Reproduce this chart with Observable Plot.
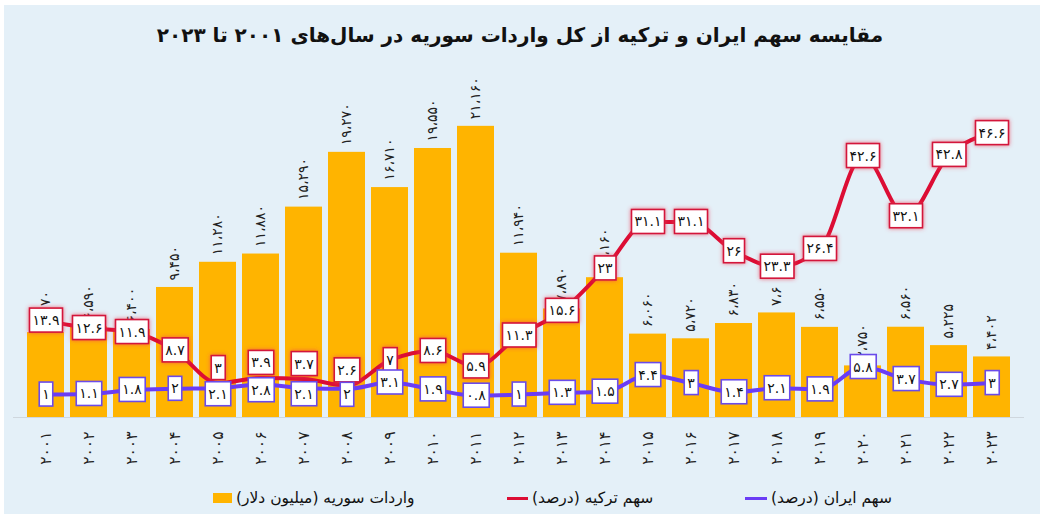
<!DOCTYPE html>
<html><head><meta charset="utf-8">
<script src="https://cdn.jsdelivr.net/npm/d3@7"></script>
<script src="https://cdn.jsdelivr.net/npm/@observablehq/plot@0.6"></script>
<style>
body{margin:0;background:#fff;}
#wrap{position:relative;width:1040px;height:514px;overflow:hidden;background:#fff;font-family:"DejaVu Sans",sans-serif;}
#panel{position:absolute;left:4px;top:5px;right:0;bottom:0;background:#E4F0F8;}
#title{position:absolute;left:0;top:23px;width:1040px;text-align:center;font-weight:bold;font-size:20px;direction:rtl;color:#111;}
.layer{position:absolute;left:0;top:0;}
.leg{position:absolute;top:488px;height:20px;display:flex;align-items:center;font-size:15.5px;color:#111;white-space:nowrap;}
.leg .txt{direction:rtl;margin-left:4px;}
</style></head><body>
<div id="wrap">
  <div id="panel"></div>
  <div id="title">مقایسه سهم ایران و ترکیه از کل واردات سوریه در سال‌های ۲۰۰۱ تا ۲۰۲۳</div>
  <div id="chart"></div>
  <div class="leg" style="left:213px"><span style="display:inline-block;width:19px;height:10px;background:#FFB400"></span><span class="txt">واردات سوریه (میلیون دلار)</span></div>
  <div class="leg" style="left:507px"><span style="display:inline-block;width:21px;height:3px;background:#DC0D34"></span><span class="txt">سهم ترکیه (درصد)</span></div>
  <div class="leg" style="left:745px"><span style="display:inline-block;width:22px;height:3px;background:#6A3CF5"></span><span class="txt">سهم ایران (درصد)</span></div>
</div>
<script>
const years = [2001,2002,2003,2004,2005,2006,2007,2008,2009,2010,2011,2012,2013,2014,2015,2016,2017,2018,2019,2020,2021,2022,2023];
const imports = [6170,6590,6400,9450,11280,11880,15290,19270,16710,19550,21160,11940,7890,10160,6060,5720,6830,7600,6550,3750,6560,5225,4402];
const importLabels = ["۶،۱۷۰","۶،۵۹۰","۶،۴۰۰","۹،۴۵۰","۱۱،۲۸۰","۱۱،۸۸۰","۱۵،۲۹۰","۱۹،۲۷۰","۱۶،۷۱۰","۱۹،۵۵۰","۲۱،۱۶۰","۱۱،۹۴۰","۷،۸۹۰","۱۰،۱۶۰","۶،۰۶۰","۵،۷۲۰","۶،۸۳۰","۷،۶","۶،۵۵۰","۳،۷۵۰","۶،۵۶۰","۵،۲۲۵","۴،۴۰۲"];
const turkeyShare = [13.9,12.6,11.9,8.7,3,3.9,3.7,2.6,7,8.6,5.9,11.3,15.6,23,31.1,31.1,26,23.3,26.4,42.6,32.1,42.8,46.6];
const iranShare = [1,1.1,1.8,2,2.1,2.8,2.1,2,3.1,1.9,0.8,1,1.3,1.5,4.4,3,1.4,2.1,1.9,5.8,3.7,2.7,3];

const faDigits = "۰۱۲۳۴۵۶۷۸۹";
const fa = v => String(v).replace(/[0-9]/g, c => faDigits[+c]);

const rows = years.map((year, i) => ({
  year, imp: imports[i], impLabel: importLabels[i], tr: turkeyShare[i], ir: iranShare[i],
  close: turkeyShare[i] - iranShare[i] < 3
}));

const W = 1040, H = 480, BASE = 417, TOP = 73;
const common = {
  width: W, height: H, marginTop: TOP, marginBottom: H - BASE, marginLeft: 13, marginRight: 16,
  style: {background: "transparent", fontFamily: "DejaVu Sans", fontSize: "15.5px", color: "#222", overflow: "visible"}
};

const barPlot = Plot.plot({
  ...common,
  x: {type: "band", domain: years, padding: 0.15, tickRotate: -90, tickSize: 0, tickPadding: 14, tickFormat: fa, label: null},
  y: {domain: [0, 25000], axis: null},
  marks: [
    Plot.barY(rows, {x: "year", y: "imp", fill: "#FFB400"}),
    Plot.ruleY([0], {stroke: "#cfd7de"}),
    Plot.text(rows, {x: "year", y: "imp", text: "impLabel", rotate: -90, textAnchor: "start", dy: -7, fontSize: 14, fill: "#222"})
  ]
});

const lab = {fontSize: 14, fill: "#111"};
const linePlot = Plot.plot({
  ...common,
  x: {type: "band", domain: years, padding: 0.15, axis: null},
  y: {domain: [-3, 57], axis: null},
  marks: [
    Plot.line(rows, {x: "year", y: "tr", stroke: "#DC0D34", strokeWidth: 4, curve: "monotone-x"}),
    Plot.line(rows, {x: "year", y: "ir", stroke: "#6A3CF5", strokeWidth: 4, curve: "monotone-x"}),
    Plot.text(rows.filter(d => !d.close), {x: "year", y: "tr", text: d => fa(d.tr), ...lab}),
    Plot.text(rows.filter(d => d.close), {x: "year", y: "tr", text: d => fa(d.tr), dy: -15, ...lab}),
    Plot.text(rows.filter(d => !d.close), {x: "year", y: "ir", text: d => fa(d.ir), ...lab}),
    Plot.text(rows.filter(d => d.close), {x: "year", y: "ir", text: d => fa(d.ir), dy: 6, ...lab})
  ]
});

barPlot.classList.add("layer");
linePlot.classList.add("layer");
const chart = document.getElementById("chart");
chart.appendChild(barPlot);
chart.appendChild(linePlot);

const ns = "http://www.w3.org/2000/svg";
const defs = document.createElementNS(ns, "defs");
defs.innerHTML = '<filter id="glowR" x="-60%" y="-60%" width="220%" height="220%"><feDropShadow dx="0" dy="0" stdDeviation="2.2" flood-color="#f03c55" flood-opacity="0.75"/></filter>';
linePlot.insertBefore(defs, linePlot.firstChild);

function boxify(g, stroke, glow) {
  g.querySelectorAll("text").forEach(t => {
    const b = t.getBBox();
    const r = document.createElementNS(ns, "rect");
    r.setAttribute("x", b.x - 3);
    r.setAttribute("y", b.y - 4);
    r.setAttribute("width", b.width + 6);
    r.setAttribute("height", b.height + 8);
    const tr = t.getAttribute("transform");
    if (tr) r.setAttribute("transform", tr);
    r.setAttribute("fill", "#fff");
    r.setAttribute("stroke", stroke);
    r.setAttribute("stroke-width", "1.6");
    if (glow) r.setAttribute("filter", "url(#glowR)");
    g.insertBefore(r, t);
  });
}
const textGroups = linePlot.querySelectorAll('g[aria-label="text"]');
boxify(textGroups[0], "#D3143A", true);
boxify(textGroups[1], "#D3143A", true);
boxify(textGroups[2], "#6A4BEA", false);
boxify(textGroups[3], "#6A4BEA", false);
</script>
</body></html>
